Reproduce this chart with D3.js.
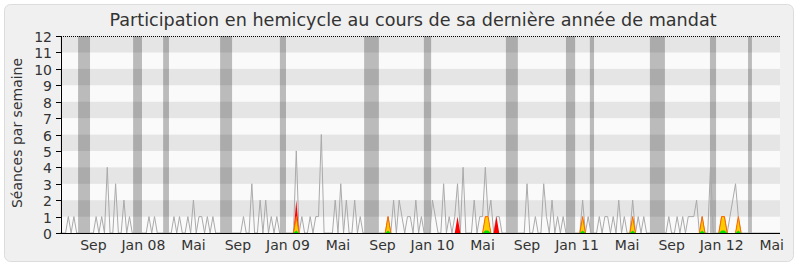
<!DOCTYPE html>
<html>
<head>
<meta charset="utf-8">
<title>Participation en hemicycle</title>
<style>
  body { margin: 0; background: #fff; }
  svg { display: block; font-family: "DejaVu Sans", sans-serif; }
</style>
</head>
<body>
<div id="chart"></div>
<script src="https://d3js.org/d3.v7.min.js"></script>
<script>

// one value per week, week 0 = mid-June 2007
var seances = [
  0,0,0,1,0,1,0,0,0,0, 0,0,0,1,0,1,0,4,0,0,
  3,0,0,2,0,1,0,0,0,0, 0,0,1,0,1,0,0,0,0,0,
  0,1,0,1,0,0,1,0,2,0, 1,1,0,1,0,1,0,0,0,0,
  0,0,0,0,0,0,1,0,0,3, 0,0,2,0,2,0,1,0,1,0,
  0,0,0,0,0,5,0,1,0,0, 1,0,1,1,6,0,0,0,0,2,
  0,3,0,2,0,0,2,0,1,0, 0,0,0,0,0,0,0,0,1,0,
  2,0,2,1,0,1,1,0,2,0, 1,0,0,0,2,1,0,0,3,0,
  1,0,1,3,0,4,0,0,0,2, 0,1,1,4,1,2,0,1,1,0,
  0,0,0,0,0,0,0,0,3,0, 0,1,0,0,3,1,0,2,0,1,
  0,1,0,0,0,0,0,0,2,0, 1,0,0,0,1,0,1,1,0,1,
  0,2,0,1,0,0,2,0,1,0, 1,0,0,0,0,0,0,0,0,1,
  0,0,1,0,1,0,1,1,1,2, 0,1,0,0,4,0,0,0,1,1,
  0,1,2,3,1,0,0,0,0,0, 0,0,0,0,0,0,0,0,0,0
];

var presences = [
  0,0,0,0,0,0,0,0,0,0, 0,0,0,0,0,0,0,0,0,0,
  0,0,0,0,0,0,0,0,0,0, 0,0,0,0,0,0,0,0,0,0,
  0,0,0,0,0,0,0,0,0,0, 0,0,0,0,0,0,0,0,0,0,
  0,0,0,0,0,0,0,0,0,0, 0,0,0,0,0,0,0,0,0,0,
  0,0,0,0,0,2,0,0,0,0, 0,0,0,0,0,0,0,0,0,0,
  0,0,0,0,0,0,0,0,0,0, 0,0,0,0,0,0,0,0,1,0,
  0,0,0,0,0,0,0,0,0,0, 0,0,0,0,0,0,0,0,0,0,
  0,0,0,1,0,0,0,0,0,0, 0,0,0,1,1,0,0,1,0,0,
  0,0,0,0,0,0,0,0,0,0, 0,0,0,0,0,0,0,0,0,0,
  0,0,0,0,0,0,0,0,1,0, 0,0,0,0,0,0,0,0,0,0,
  0,0,0,0,0,0,1,0,0,0, 0,0,0,0,0,0,0,0,0,0,
  0,0,0,0,0,0,0,0,0,0, 0,1,0,0,0,0,0,0,1,1,
  0,0,0,0,1,0,0,0,0,0, 0,0,0,0,0,0,0,0,0,0
];

var interventions = [
  0,0,0,0,0,0,0,0,0,0, 0,0,0,0,0,0,0,0,0,0,
  0,0,0,0,0,0,0,0,0,0, 0,0,0,0,0,0,0,0,0,0,
  0,0,0,0,0,0,0,0,0,0, 0,0,0,0,0,0,0,0,0,0,
  0,0,0,0,0,0,0,0,0,0, 0,0,0,0,0,0,0,0,0,0,
  0,0,0,0,0,1,0,0,0,0, 0,0,0,0,0,0,0,0,0,0,
  0,0,0,0,0,0,0,0,0,0, 0,0,0,0,0,0,0,0,1,0,
  0,0,0,0,0,0,0,0,0,0, 0,0,0,0,0,0,0,0,0,0,
  0,0,0,0,0,0,0,0,0,0, 0,0,0,1,1,0,0,0,0,0,
  0,0,0,0,0,0,0,0,0,0, 0,0,0,0,0,0,0,0,0,0,
  0,0,0,0,0,0,0,0,1,0, 0,0,0,0,0,0,0,0,0,0,
  0,0,0,0,0,0,1,0,0,0, 0,0,0,0,0,0,0,0,0,0,
  0,0,0,0,0,0,0,0,0,0, 0,1,0,0,0,0,0,0,1,1,
  0,0,0,0,1,0,0,0,0,0, 0,0,0,0,0,0,0,0,0,0
];

var questions = [
  0,0,0,0,0,0,0,0,0,0, 0,0,0,0,0,0,0,0,0,0,
  0,0,0,0,0,0,0,0,0,0, 0,0,0,0,0,0,0,0,0,0,
  0,0,0,0,0,0,0,0,0,0, 0,0,0,0,0,0,0,0,0,0,
  0,0,0,0,0,0,0,0,0,0, 0,0,0,0,0,0,0,0,0,0,
  0,0,0,0,0,.15,0,0,0,0, 0,0,0,0,0,0,0,0,0,0,
  0,0,0,0,0,0,0,0,0,0, 0,0,0,0,0,0,0,0,.15,0,
  0,0,0,0,0,0,0,0,0,0, 0,0,0,0,0,0,0,0,0,0,
  0,0,0,0,0,0,0,0,0,0, 0,0,0,.15,.15,0,0,0,0,0,
  0,0,0,0,0,0,0,0,0,0, 0,0,0,0,0,0,0,0,0,0,
  0,0,0,0,0,0,0,0,.15,0, 0,0,0,0,0,0,0,0,0,0,
  0,0,0,0,0,0,.15,0,0,0, 0,0,0,0,0,0,0,0,0,0,
  0,0,0,0,0,0,0,0,0,0, 0,.15,0,0,0,0,0,0,.15,.15,
  0,0,0,0,.15,0,0,0,0,0, 0,0,0,0,0,0,0,0,0,0
];

// parliamentary breaks, in weeks [start, end]
var vacances = [
  [6.5, 10.8], [26.3, 29.5], [37.1, 39.2], [57.6, 61.9], [79.1, 81.3],
  [109.4, 114.7], [130.9, 133.5], [160.4, 164.7], [182.0, 185.3], [190.6, 192.1],
  [212.2, 217.6], [233.8, 236.0], [247.5, 248.9]
];

var moisSemaines = [12, 30, 48, 64, 82, 100, 116, 134, 152, 168, 186, 204, 220, 238, 256];
var moisLabels = ["Sep", "Jan 08", "Mai", "Sep", "Jan 09", "Mai", "Sep", "Jan 10", "Mai",
                  "Sep", "Jan 11", "Mai", "Sep", "Jan 12", "Mai"];

var width = 800, height = 267;
var n = seances.length;

var x = d3.scaleLinear().domain([0, n - 1]).range([60, 780]);
var y = d3.scaleLinear().domain([0, 12]).range([233, 36]);

var svg = d3.select("#chart").append("svg")
    .attr("width", width)
    .attr("height", height);

// panel
svg.append("rect")
    .attr("x", 4.5).attr("y", 4.5)
    .attr("width", 789).attr("height", 257)
    .attr("rx", 6)
    .attr("fill", "#f0f0f0")
    .attr("stroke", "#dcdcdc");

svg.append("text")
    .attr("x", 413).attr("y", 26)
    .attr("text-anchor", "middle")
    .style("font-size", "17.6px")
    .attr("fill", "#333")
    .text("Participation en hemicycle au cours de sa dernière année de mandat");

// horizontal stripes
svg.selectAll("rect.stripe")
    .data(y.ticks(12).slice(0, 12))
    .enter().append("rect")
    .attr("class", "stripe")
    .attr("x", x(0)).attr("width", x(n - 1) - x(0))
    .attr("y", function(d) { return y(d + 1); })
    .attr("height", function(d) { return y(d) - y(d + 1); })
    .attr("fill", function(d) { return d % 2 ? "#e5e5e5" : "#fafafa"; });

// breaks
svg.selectAll("rect.vac")
    .data(vacances)
    .enter().append("rect")
    .attr("class", "vac")
    .attr("x", function(d) { return x(d[0]); })
    .attr("width", function(d) { return x(d[1]) - x(d[0]); })
    .attr("y", y(12)).attr("height", y(0) - y(12))
    .attr("fill", "#000")
    .attr("fill-opacity", 0.25);

// weekly sessions
var line = d3.line()
    .x(function(d, i) { return x(i); })
    .y(function(d) { return y(d); });

svg.append("path")
    .datum(seances)
    .attr("d", line)
    .attr("fill", "none")
    .attr("stroke", "#aaaaaa")
    .attr("stroke-width", 1);

var area = d3.area()
    .x(function(d, i) { return x(i); })
    .y0(y(0))
    .y1(function(d) { return y(d); });

svg.append("path").datum(presences)
    .attr("d", area)
    .attr("fill", "#ff0000");

svg.append("path").datum(interventions)
    .attr("d", area)
    .attr("fill", "#ffcc00");

// orange outline only around the peaks, not along the baseline
var contour = d3.line()
    .defined(function(d, i, a) { return d > 0 || a[i - 1] > 0 || a[i + 1] > 0; })
    .x(function(d, i) { return x(i); })
    .y(function(d) { return y(d); });

svg.append("path").datum(interventions)
    .attr("d", contour)
    .attr("fill", "none")
    .attr("stroke", "#ff6a00")
    .attr("stroke-width", 1);

svg.append("path").datum(questions)
    .attr("d", area)
    .attr("fill", "#00e000");

// top dotted line and axes
svg.append("line")
    .attr("x1", 61).attr("x2", x(n - 1))
    .attr("y1", y(12) + 0.5).attr("y2", y(12) + 0.5)
    .attr("stroke", "#000")
    .attr("stroke-dasharray", "1,1");

svg.append("line")
    .attr("x1", 61).attr("x2", x(n - 1))
    .attr("y1", y(0) + 0.5).attr("y2", y(0) + 0.5)
    .attr("stroke", "#000");

svg.append("line")
    .attr("x1", 61.5).attr("x2", 61.5)
    .attr("y1", y(12)).attr("y2", y(0) + 1)
    .attr("stroke", "#000");

var yTicks = svg.selectAll("g.ytick")
    .data(y.ticks(12))
    .enter().append("g")
    .attr("class", "ytick")
    .attr("transform", function(d) { return "translate(0," + (Math.round(y(d)) + 0.5) + ")"; });

yTicks.append("line")
    .attr("x1", 56).attr("x2", 61)
    .attr("stroke", "#000");

yTicks.append("text")
    .attr("x", 52).attr("dy", "0.36em")
    .attr("text-anchor", "end")
    .style("font-size", "14px")
    .attr("fill", "#333")
    .text(function(d) { return d; });

svg.selectAll("text.mois")
    .data(moisSemaines)
    .enter().append("text")
    .attr("class", "mois")
    .attr("x", function(d) { return x(d); })
    .attr("y", 250)
    .attr("text-anchor", "middle")
    .style("font-size", "14px")
    .attr("fill", "#333")
    .text(function(d, i) { return moisLabels[i]; });

svg.append("text")
    .attr("transform", "translate(22,133) rotate(-90)")
    .attr("text-anchor", "middle")
    .style("font-size", "14px")
    .attr("fill", "#333")
    .text("Séances par semaine");

</script>
</body>
</html>
